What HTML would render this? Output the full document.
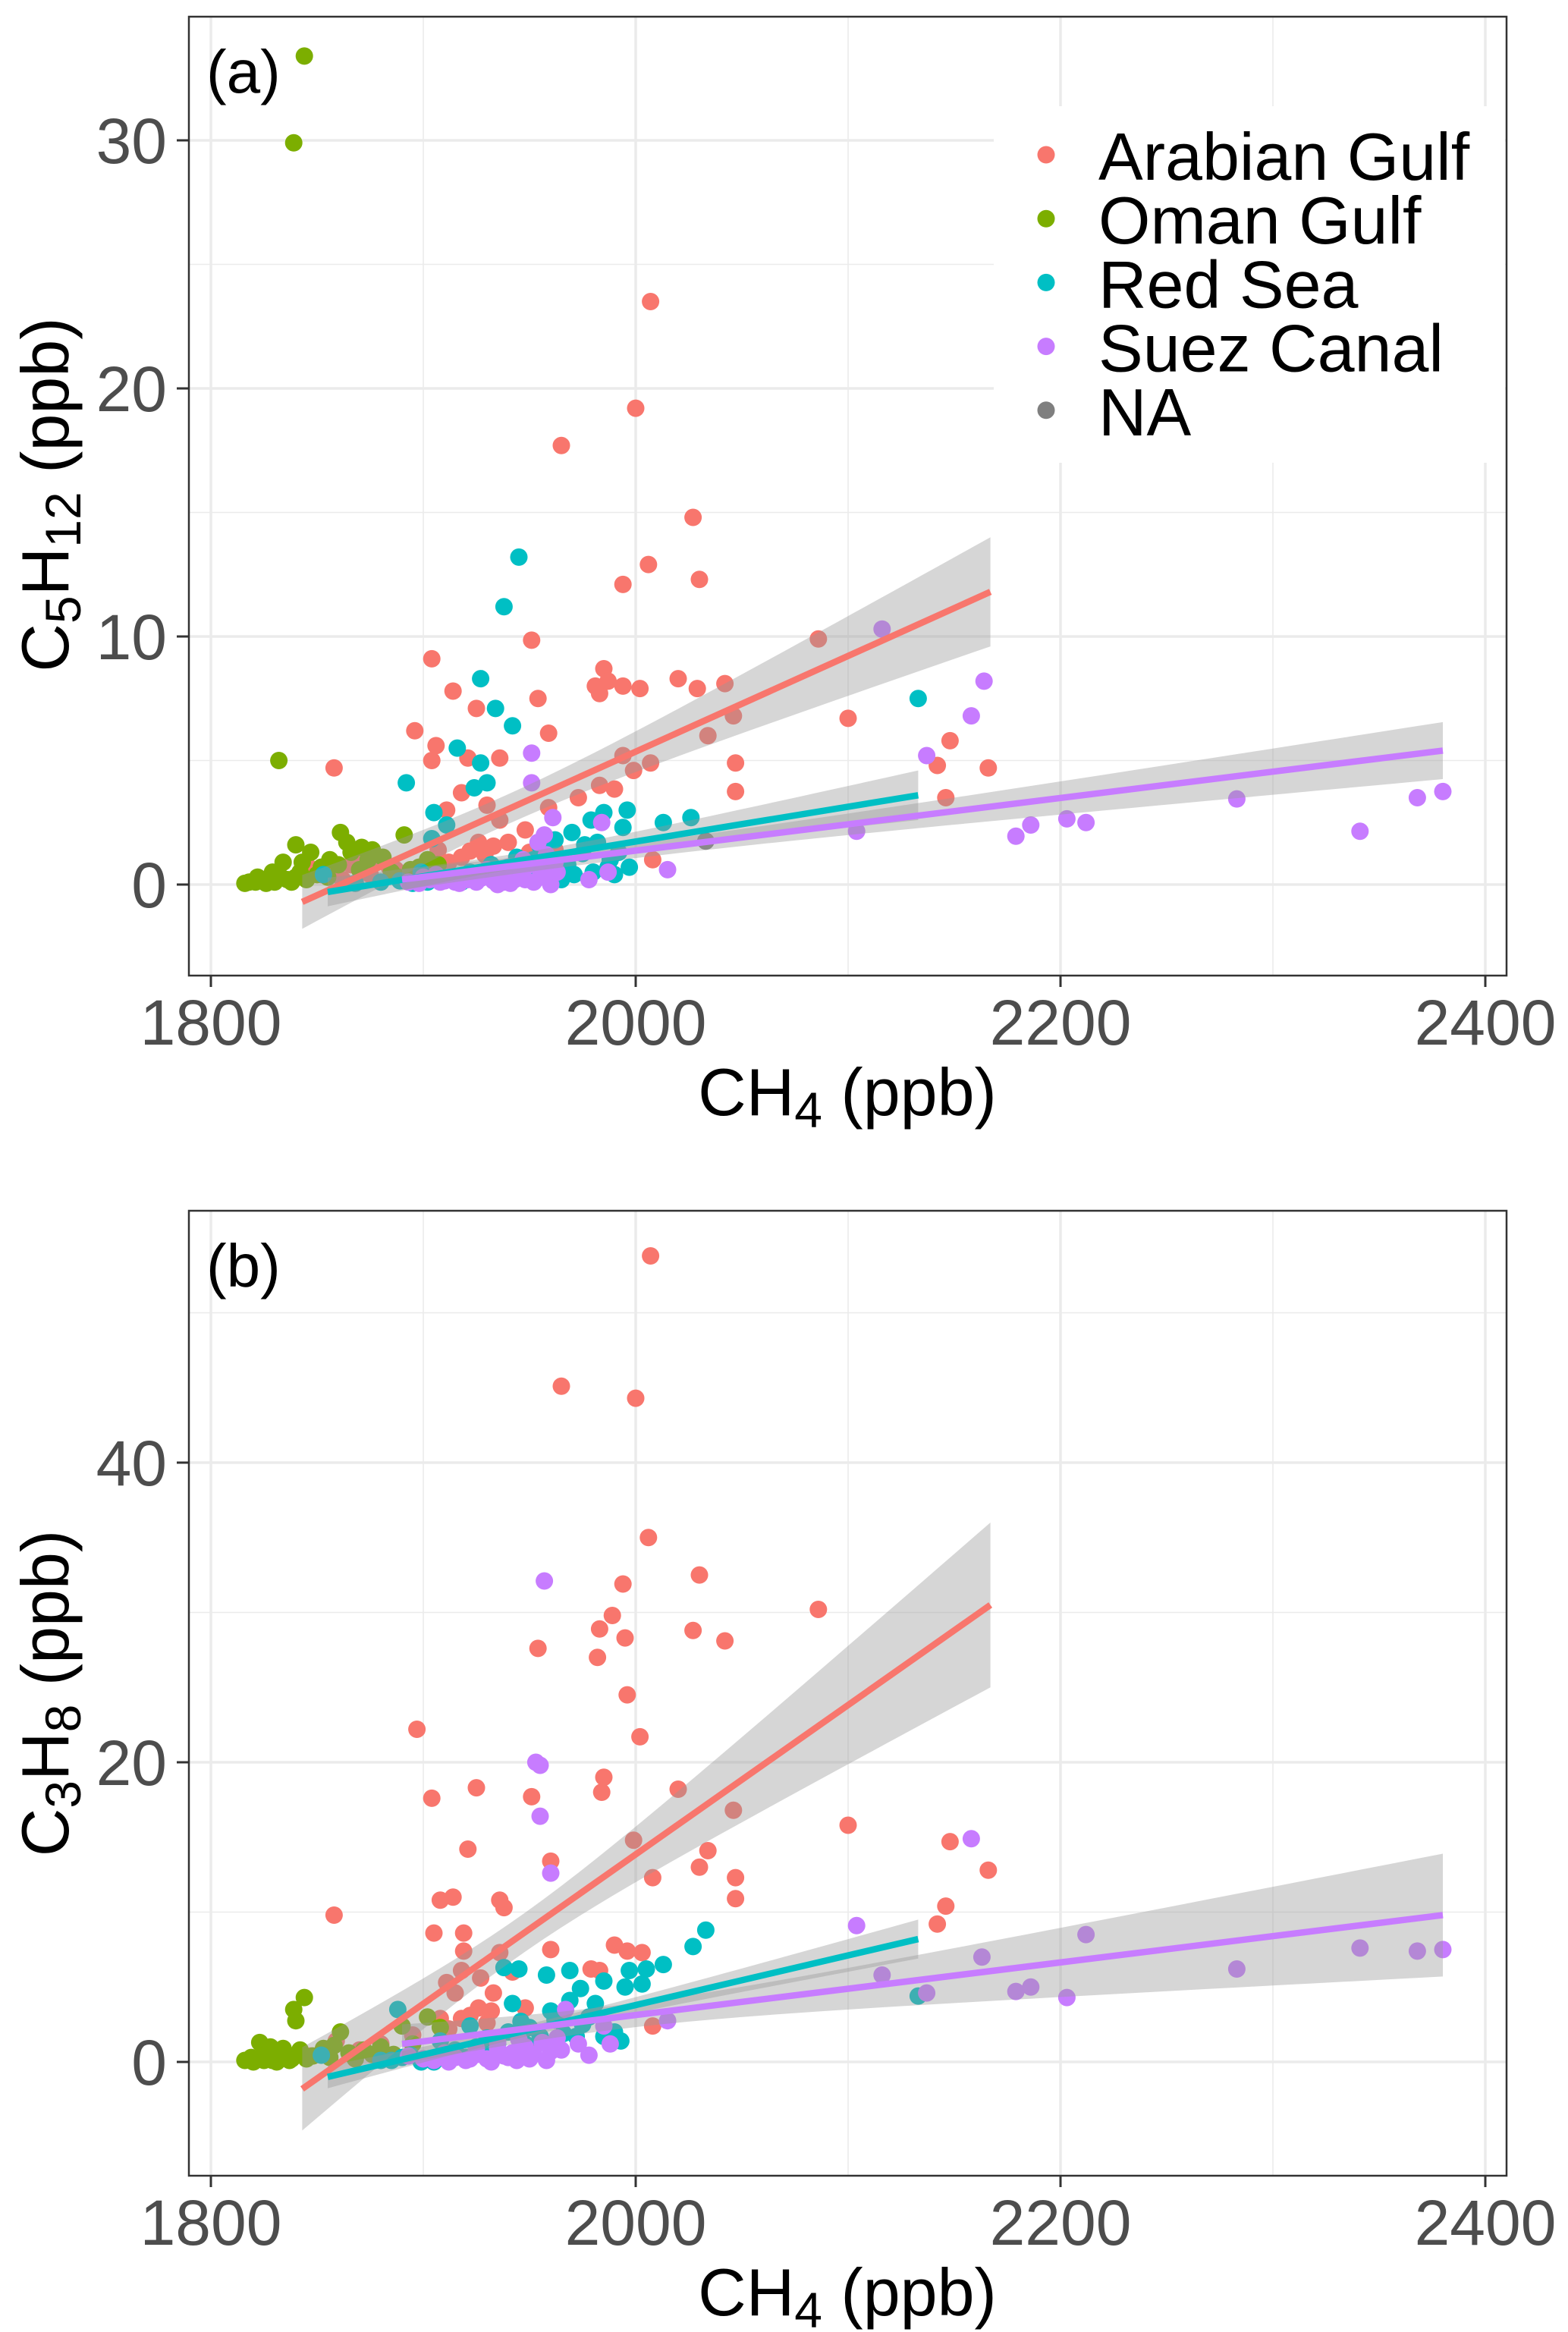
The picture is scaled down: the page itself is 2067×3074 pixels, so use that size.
<!DOCTYPE html>
<html><head><meta charset="utf-8"><title>C5H12 and C3H8 vs CH4</title>
<style>html,body{margin:0;padding:0;background:#fff}svg{display:block}text{font-family:"Liberation Sans",Arial,sans-serif}</style>
</head><body>
<svg id="fig" xmlns="http://www.w3.org/2000/svg" width="2067" height="3074" viewBox="0 0 2067 3074"></svg>
<script>
// ---------- data: panel (a) C5H12 ----------
const aRedX=[2007,2000,1965,2027,2030,2006,1994,1904,1951,2086,1985,1981,1983,1987,1994,2002,2020,2029,2042,1914,1925,1954,2100,1896,1959,2046,2034,2148,1906,1921,1936,1904,1858,2047,2142,2166,1994,2007,1999,1983,1973,2047,2146,1918,1930,1911,1959,1948,1936,1940,1926,2008,1859,1846,1866,1871,1887,1918,1922,1933,1962,1907,1990,1852,1878,1895,1862,1869,1875,1884,1890,1900,1912,1929,1944,1950];
const aRedY=[23.5,19.2,17.7,14.8,12.3,12.9,12.1,9.1,9.85,9.9,8.7,8.0,7.7,8.2,8.0,7.9,8.3,7.9,8.1,7.8,7.1,7.5,6.7,6.2,6.1,6.8,6.0,5.8,5.6,5.1,5.1,5.0,4.7,4.9,4.8,4.7,5.2,4.9,4.6,4.0,3.5,3.75,3.5,3.7,3.2,3.0,3.1,2.2,2.6,1.7,1.7,1.0,0.6,0.7,0.8,0.5,0.6,1.1,1.35,1.55,1.4,1.4,3.85,0.4,0.9,0.3,0.2,0.9,0.4,0.7,0.3,0.5,0.9,1.2,1.0,1.3];
const aGreenX=[1844,1839,1832,1861,1840,1891,1876,1864,1847,1834,1818,1821,1825,1828,1832,1836,1840,1842,1852,1856,1866,1871,1881,1902,1907,1898,1816,1826,1830,1838,1845,1855,1870,1885,1822,1829,1843,1850,1860,1874,1888,1894];
const aGreenY=[33.4,29.9,5.0,2.1,1.6,2.0,1.4,1.7,1.3,0.9,0.1,0.1,0.15,0.2,0.4,0.2,0.3,0.5,0.7,1.0,1.3,1.5,1.1,1.0,0.8,0.7,0.05,0.05,0.1,0.1,0.2,0.3,0.6,0.5,0.3,0.5,0.9,0.4,0.8,1.0,0.3,0.6];
const aCyanX=[1945,1938,1927,1934,1942,2133,1916,1927,1930,1892,1924,1905,1985,1996,2013,2026,1979,1970,1994,1982,1992,1987,1980,1971,1965,1955,1944,1932,1922,1904,1911,1899,1889,1880,1868,1853,1997,1936,1975,1960,1915,1895,1902,1908,1918,1925,1940,1948,1952,1968,1976,1988,1990,1962,1958];
const aCyanY=[13.2,11.2,8.3,7.1,6.4,7.5,5.5,4.9,4.1,4.1,3.9,2.9,2.9,3.0,2.5,2.7,2.6,2.1,2.3,1.7,1.3,0.7,0.5,0.4,0.2,1.55,1.1,0.8,0.5,1.85,2.4,0.5,0.15,0.1,0.05,0.4,0.7,0.4,1.25,0.9,0.2,0.05,0.1,0.3,0.1,0.2,0.4,0.6,1.0,0.8,1.6,1.0,0.4,1.8,1.2];
const aPurpleX=[2380,2368,2341,2283,2212,2203,2186,2179,2164,2158,2137,2116,2104,2015,1951,1951,1961,1984,1978,1987,1957,1954,1893,1898,1903,1908,1912,1917,1921,1925,1929,1933,1937,1941,1945,1948,1952,1956,1959,1962,1958,1950,1940,1930,1900,1906,1915,1923,1935,1943,1947,1955,1960,1963,1938,1927,1910];
const aPurpleY=[3.75,3.5,2.15,3.45,2.5,2.65,2.4,1.95,8.2,6.8,5.2,10.3,2.15,0.6,5.3,4.1,2.7,2.5,0.2,0.5,2.0,1.7,0.1,0.05,0.2,0.1,0.3,0.05,0.2,0.1,0.4,0.15,0.3,0.05,0.5,0.2,0.1,0.6,0.3,0.9,1.2,0.8,0.7,0.6,0.3,0.4,0.1,0.3,0.0,0.2,1.0,0.3,0.0,0.5,0.1,0.25,0.15];
const aNAX=[2033];
const aNAY=[1.75];
// fits: [red, cyan, purple]
const aFitX0=[1843,1855,1890], aFitX1=[2167,2133,2380];
const aFitY0=[-0.7,-0.3,0.2], aFitY1=[11.8,3.6,5.4];
const aFitXc=[1940,1950,1990], aFitHmin=[0.6,0.3,0.3], aFitHend=[2.2,1.0,1.15];

// ---------- data: panel (b) C3H8 ----------
const bRedX=[2007,1965,2000,2006,2030,1994,2086,1989,1983,2027,2042,1995,1954,1982,1996,2002,1897,1985,2020,1925,1984,1904,1951,2046,2100,1999,2148,2166,1921,2034,1960,2030,2008,2047,1908,1914,1936,1938,2146,2047,2142,1858,1905,1919,1960,1990,1996,2003,1919,1936,1942,1927,1918,1911,1915,1933,1926,1948,1918,1922,1932,2008,1979,1983,1859,1866,1847,1908,1870,1880,1895,1912,1930,1945,1955,1965];
const bRedY=[53.8,45.1,44.3,35.0,32.5,31.9,30.2,29.8,28.9,28.8,28.1,28.3,27.6,27.0,24.5,21.7,22.2,19.0,18.2,18.3,18.0,17.6,17.7,16.8,15.8,14.8,14.7,12.8,14.2,14.1,13.4,13.0,12.3,12.3,10.8,11.0,10.8,10.3,10.4,10.9,9.2,9.8,8.6,8.6,7.5,7.8,7.4,7.3,7.4,7.3,6.0,5.6,6.1,5.3,4.6,4.6,3.6,3.6,2.9,3.1,3.4,2.4,6.2,6.1,1.4,0.5,0.4,2.9,0.8,1.2,1.8,2.2,2.6,2.0,1.4,2.8];
const bGreenX=[1844,1839,1840,1861,1902,1908,1890,1823,1816,1819,1822,1826,1829,1832,1835,1838,1842,1848,1853,1858,1865,1872,1880,1886,1895,1834,1828,1820,1825,1831,1837,1845,1856,1868,1876];
const bGreenY=[4.3,3.5,2.75,2.0,3.0,2.3,2.4,1.3,0.1,0.3,0.2,0.5,0.1,0.3,0.6,0.2,0.8,0.4,0.9,1.1,0.6,0.8,1.0,0.5,1.2,0.9,1.0,0.0,0.1,0.0,0.1,0.2,0.3,0.2,0.5];
const bCyanX=[2033,2027,2013,2005,2003,1995,1997,1945,1938,1969,1958,1974,1985,2133,1888,1942,1969,1981,1993,1985,1960,1946,1922,1908,1894,1885,1899,1852,1972,1955,1880,1890,1900,1910,1915,1925,1930,1935,1940,1950,1962,1975,1990,1905,1920,1928,1948,1966,1978];
const bCyanY=[8.8,7.7,6.5,6.2,5.2,5.0,6.1,6.2,6.3,6.1,5.8,4.9,5.4,4.4,3.5,3.9,4.1,3.9,1.4,1.7,3.4,2.7,2.4,1.4,0.45,0.1,0.0,0.45,1.7,1.7,0.1,0.3,0.2,0.5,0.8,1.0,1.6,1.2,2.0,2.3,2.8,2.5,2.0,0.0,0.3,0.6,1.2,1.9,3.0];
const bPurpleX=[1957,1953,1955,1955,1960,2158,2104,2212,2163,2341,2368,2380,2283,2116,2137,2186,2179,2203,2015,1967,1985,1978,1973,1988,1893,1900,1905,1910,1915,1920,1925,1930,1935,1940,1944,1948,1952,1956,1960,1963,1945,1935,1925,1912,1922,1932,1938,1942,1950,1958,1965];
const bPurpleY=[32.1,20.0,19.8,16.4,12.6,14.9,9.1,8.5,7.0,7.6,7.4,7.5,6.2,5.8,4.6,5.0,4.7,4.3,2.75,3.5,2.4,0.45,1.2,1.2,0.4,0.2,0.1,0.6,0.3,0.1,0.5,0.2,0.9,0.3,0.1,1.0,0.5,1.3,0.7,1.6,1.5,1.3,0.9,0.0,0.2,0.0,0.4,0.6,0.2,0.1,0.8];
const bNAX=[];
const bNAY=[];
const bFitX0=[1843,1855,1890], bFitX1=[2167,2133,2380];
const bFitY0=[-1.8,-1.0,1.2], bFitY1=[30.5,8.2,9.8];
const bFitXc=[1945,1950,1990], bFitHmin=[1.3,0.4,0.8], bFitHend=[5.5,1.3,4.1];

// ticks
const xTicks=[1800,2000,2200,2400];
const xMinor=[1900,2100,2300];
const aYTicks=[0,10,20,30];
const aYMinor=[5,15,25];
const bYTicks=[0,20,40];
const bYMinor=[10,30,50];
const groups=["Arabian Gulf","Oman Gulf","Red Sea","Suez Canal","NA"];
const colors=["#F8766D","#7CAE00","#00BFC4","#C77CFF","#7F7F7F"];

const NS="http://www.w3.org/2000/svg";
const svg=document.getElementById("fig");
function mk(tag,attrs,parent){const e=document.createElementNS(NS,tag);for(const k in attrs)e.setAttribute(k,attrs[k]);(parent||svg).appendChild(e);return e;}
const sx=v=>278+(v-1800)*2.8;

function panel(cfg){
  const L=249,R=1986,T=cfg.top,B=cfg.bottom;
  const sy=v=>cfg.y0-v*cfg.ppu;
  const g=mk("g",{});
  
  
  const cid="clip-"+cfg.id;
  const cp=mk("clipPath",{id:cid},g);mk("rect",{x:L,y:T,width:R-L,height:B-T},cp);
  const grid=mk("g",{"clip-path":"url(#"+cid+")"},g);
  
  
  cfg.yMinor.forEach(v=>mk("line",{x1:L,x2:R,y1:sy(v),y2:sy(v),stroke:"#EBEBEB","stroke-width":1.6},grid));
  xMinor.forEach(v=>mk("line",{x1:sx(v),x2:sx(v),y1:T,y2:B,stroke:"#EBEBEB","stroke-width":1.6},grid));
  cfg.yTicks.forEach(v=>mk("line",{x1:L,x2:R,y1:sy(v),y2:sy(v),stroke:"#EBEBEB","stroke-width":3.5},grid));
  xTicks.forEach(v=>mk("line",{x1:sx(v),x2:sx(v),y1:T,y2:B,stroke:"#EBEBEB","stroke-width":3.5},grid));
  const data=mk("g",{"clip-path":"url(#"+cid+")"},g);
  
  
  cfg.series.forEach((s,si)=>{
    s.x.forEach((xv,i)=>{
      const c=mk("circle",{cx:sx(xv),cy:sy(s.y[i]),r:11.5,fill:colors[s.c]},data);
      
      
    });
  });
  const fitCols=[0,2,3];
  const fits=mk("g",{"clip-path":"url(#"+cid+")"},g);
  for(let f=0;f<3;f++){
    const x0=cfg.fx0[f],x1=cfg.fx1[f],y0=cfg.fy0[f],y1=cfg.fy1[f],xc=cfg.fxc[f],h=cfg.fh[f],he=cfg.fhe[f];
    const k=(he*he-h*h)/((x1-xc)*(x1-xc));
    const line=x=>y0+(x-x0)*(y1-y0)/(x1-x0);
    const hw=x=>Math.sqrt(h*h+k*(x-xc)*(x-xc));
    const up=[],lo=[];
    for(let i=0;i<=40;i++){const x=x0+(x1-x0)*i/40;up.push(sx(x)+","+sy(line(x)+hw(x)));lo.unshift(sx(x)+","+sy(line(x)-hw(x)));}
    const rb=mk("polygon",{points:up.concat(lo).join(" "),fill:"#999999","fill-opacity":0.4},fits);
    
    
  }
  for(let f=0;f<3;f++){
    const ln=mk("line",{x1:sx(cfg.fx0[f]),y1:sy(cfg.fy0[f]),x2:sx(cfg.fx1[f]),y2:sy(cfg.fy1[f]),stroke:colors[fitCols[f]],"stroke-width":8.5},fits);
    
    
  }
  const border=mk("rect",{x:L,y:T,width:R-L,height:B-T,fill:"none",stroke:"#333333","stroke-width":2.5},g);
  
  
  cfg.yTicks.forEach(v=>{
    mk("line",{x1:233,x2:L,y1:sy(v),y2:sy(v),stroke:"#333","stroke-width":3},g);
    const t=mk("text",{x:220,y:sy(v)+30,"text-anchor":"end","font-size":84,fill:"#4D4D4D"},g);
    t.textContent=v;
    
    
  });
  xTicks.forEach(v=>{
    mk("line",{x1:sx(v),x2:sx(v),y1:B,y2:B+15,stroke:"#333","stroke-width":3},g);
    const t=mk("text",{x:sx(v),y:B+91,"text-anchor":"middle","font-size":84,fill:"#4D4D4D"},g);
    t.textContent=v;
    
    
  });
  const xt=mk("text",{x:1117,y:B+184,"text-anchor":"middle","font-size":88,fill:"#000"},g);
  xt.innerHTML='CH<tspan font-size="66" dy="16">4</tspan><tspan dy="-16"> (ppb)</tspan>';
  
  
  const yt=mk("text",{x:0,y:0,"text-anchor":"middle","font-size":88,fill:"#000",transform:"translate(90,"+cfg.ytitleY+") rotate(-90)"},g);
  yt.innerHTML=cfg.ytitle;
  
  
  const lab=mk("text",{x:272,y:T+100,"font-size":80,fill:"#000"},g);
  lab.textContent=cfg.label;
  
  
}

panel({id:"a",top:22,bottom:1286,y0:1166,ppu:32.7,yTicks:aYTicks,yMinor:aYMinor,label:"(a)",ytitleY:652,
  ytitle:'C<tspan font-size="66" dy="16">5</tspan><tspan dy="-16">H</tspan><tspan font-size="66" dy="16">12</tspan><tspan dy="-16"> (ppb)</tspan>',
  series:[{x:aRedX,y:aRedY,c:0},{x:aGreenX,y:aGreenY,c:1},{x:aCyanX,y:aCyanY,c:2},{x:aPurpleX,y:aPurpleY,c:3},{x:aNAX,y:aNAY,c:4}],
  fx0:aFitX0,fx1:aFitX1,fy0:aFitY0,fy1:aFitY1,fxc:aFitXc,fh:aFitHmin,fhe:aFitHend});
panel({id:"b",top:1596,bottom:2868,y0:2718,ppu:19.75,yTicks:bYTicks,yMinor:bYMinor,label:"(b)",ytitleY:2232,
  ytitle:'C<tspan font-size="66" dy="16">3</tspan><tspan dy="-16">H</tspan><tspan font-size="66" dy="16">8</tspan><tspan dy="-16"> (ppb)</tspan>',
  series:[{x:bRedX,y:bRedY,c:0},{x:bGreenX,y:bGreenY,c:1},{x:bCyanX,y:bCyanY,c:2},{x:bPurpleX,y:bPurpleY,c:3},{x:bNAX,y:bNAY,c:4}],
  fx0:bFitX0,fx1:bFitX1,fy0:bFitY0,fy1:bFitY1,fxc:bFitXc,fh:bFitHmin,fhe:bFitHend});

const lg=mk("g",{});


mk("rect",{x:1310,y:140,width:674,height:470,fill:"#fff"},lg);
groups.forEach((name,i)=>{
  const cy=204+i*84.2;
  const d=mk("circle",{cx:1379,cy:cy,r:11.5,fill:colors[i]},lg);
  
  
  const t=mk("text",{x:1448,y:cy+33,"font-size":88,fill:"#000"},lg);
  t.textContent=name;
  
  
});
</script>
</body></html>
